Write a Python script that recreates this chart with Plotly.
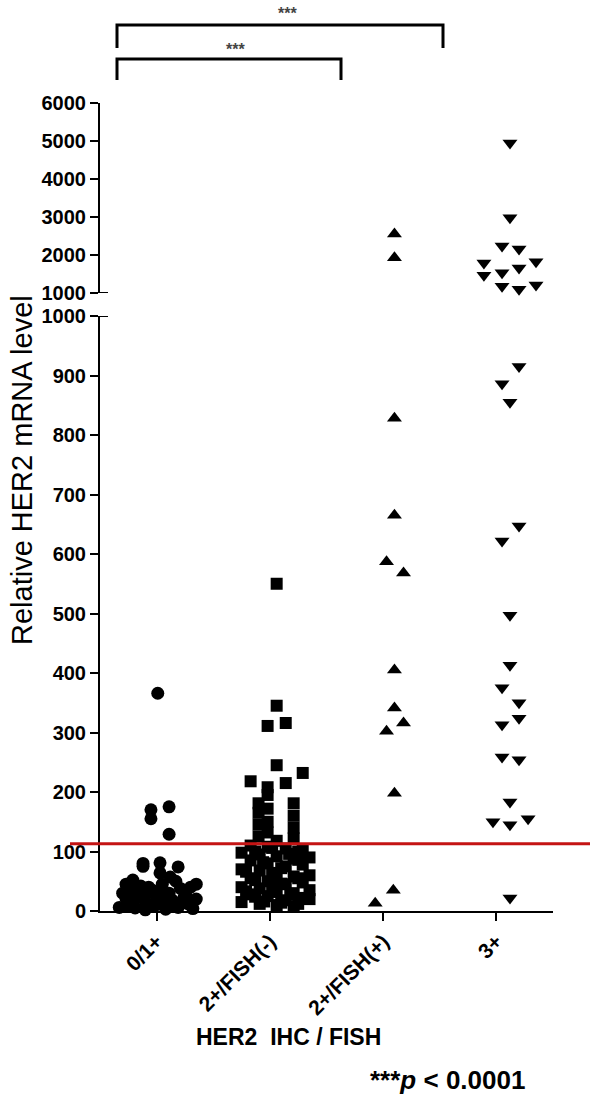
import numpy as np
import plotly.graph_objects as go

categories = ["0/1+", "2+/FISH(-)", "2+/FISH(+)", "3+"]

# values and horizontal scatter (jitter, in category units)
g0_vals = [366, 175, 170, 155, 129, 80, 75, 81, 74, 64, 57, 52, 40, 45, 38, 30, 20, 10, 5,
           42, 25, 15, 8, 35, 22, 12, 3, 45, 30, 18, 6, 38, 25, 12, 4, 40, 28, 15, 50, 33, 2, 20, 45,
           30, 18, 8, 26, 14, 36, 6, 22, 10]
g0_jit = [0.01, 0.11, -0.05, -0.05, 0.11, -0.12, -0.12, 0.03, 0.19, 0.03, 0.12, -0.21, 0.30,
          -0.27, -0.23, -0.30, -0.27, -0.26, -0.19, -0.14, -0.16, -0.10, -0.05, -0.04, 0.0, 0.04,
          0.08, 0.05, 0.11, 0.14, 0.19, 0.21, 0.26, 0.28, 0.32, -0.07, 0.02, 0.23, 0.17, -0.20,
          -0.10, 0.35, 0.35,
          -0.08, -0.20, 0.16, 0.07, 0.30, -0.15, -0.33, 0.24, -0.01]

g1_vals = [550, 345, 316, 311, 245, 232, 218, 215, 208, 195, 181, 181, 172, 165, 160, 150, 145,
           140, 132, 125, 122, 118, 110, 108, 105, 103, 98, 95, 92, 88, 85, 80, 78, 75, 70, 68,
           62, 58, 55, 50, 48, 45, 40, 38, 32, 30, 28, 25, 22, 18, 15, 12, 10, 8, 20, 35, 60, 90,
           100, 82, 64, 46, 28, 12, 96, 72, 52, 33, 16, 106, 86, 66, 42, 24, 100, 55, 14]
g1_jit = [0.06, 0.06, 0.14, -0.02, 0.06, 0.29, -0.17, 0.14, -0.02, -0.02, -0.10, 0.21, -0.02,
          -0.10, 0.21, -0.02, -0.10, 0.21, -0.02, -0.10, 0.21, 0.06, -0.17, -0.02, 0.14, 0.29,
          -0.25, -0.09, 0.06, 0.21, -0.17, -0.02, 0.29, 0.14, -0.25, -0.09, 0.06, 0.21, -0.17,
          -0.02, 0.29, 0.14, -0.25, -0.09, 0.06, 0.21, -0.17, -0.02, 0.29, 0.14, -0.25, -0.09,
          0.06, 0.21, 0.35, 0.35, 0.35, 0.35,
          -0.13, -0.06, 0.02, 0.10, 0.18, 0.25, 0.17, 0.10, -0.13, -0.21, -0.05, 0.02, 0.25,
          -0.21, 0.02, -0.13, 0.25, 0.25, 0.10]

g2_vals = [2550, 1930, 828, 665, 587, 568, 405, 341, 316, 302, 198, 13, 35]
g2_jit = [0.10, 0.10, 0.10, 0.10, 0.03, 0.18, 0.10, 0.10, 0.18, 0.03, 0.10, -0.07, 0.09]

g3_vals = [4950, 2980, 2240, 2160, 1790, 1470, 1530, 1180, 1660, 1100, 1820, 1210, 915, 886, 855,
           647, 622, 497, 413, 375, 350, 324, 313, 259, 254, 183, 150, 145, 155, 22]
g3_jit = [0.12, 0.12, 0.05, 0.20, -0.11, -0.11, 0.05, 0.05, 0.20, 0.20, 0.35, 0.35, 0.20, 0.05,
          0.12, 0.20, 0.05, 0.12, 0.12, 0.05, 0.20, 0.20, 0.05, 0.05, 0.20, 0.12, -0.03, 0.12,
          0.28, 0.12]

cutoff = 113
lower_ticks = list(range(0, 1001, 100))
upper_ticks = list(range(1000, 6001, 1000))

groups = [
    (g0_vals, g0_jit, "circle", 13),
    (g1_vals, g1_jit, "square", 12),
    (g2_vals, g2_jit, "triangle-up", 13),
    (g3_vals, g3_jit, "triangle-down", 13),
]

W, H = 600, 1100
def px(x):
    return x / W
def py(y):
    return 1 - y / H

fig = go.Figure()
for i, (vals, jit, sym, sz) in enumerate(groups):
    v = np.array(vals, dtype=float)
    xpos = i + np.array(jit)
    lo = v <= 1000
    hi = v > 1000
    mk = dict(symbol=sym, size=sz, color="black", line=dict(width=0))
    fig.add_trace(go.Scatter(x=xpos[lo], y=v[lo], mode="markers", marker=mk,
                             xaxis="x", yaxis="y", cliponaxis=False, showlegend=False))
    if hi.any():
        fig.add_trace(go.Scatter(x=xpos[hi], y=v[hi], mode="markers", marker=mk,
                                 xaxis="x", yaxis="y2", cliponaxis=False, showlegend=False))

FAM = "Liberation Sans, Arial"
tickfont = dict(family=FAM, size=20, color="black", weight="bold")
axis_common = dict(showline=True, linecolor="black", linewidth=2, ticks="outside", ticklen=8,
                   tickwidth=2, tickcolor="black", showgrid=False, zeroline=False,
                   automargin=False)

fig.update_layout(
    template="none",
    width=W, height=H,
    margin=dict(l=0, r=0, t=0, b=0, pad=0),
    paper_bgcolor="white", plot_bgcolor="white",
    xaxis=dict(domain=[px(100), px(553)], range=[-0.5, 3.5], anchor="y",
               tickvals=list(range(len(categories))), ticktext=categories, tickangle=-45,
               tickfont=dict(family=FAM, size=21, color="black", weight="bold"),
               **axis_common),
    yaxis=dict(domain=[py(911), py(316)], range=[0, 1000], tickvals=lower_ticks,
               anchor="x", tickfont=tickfont, **axis_common),
    yaxis2=dict(domain=[py(293), py(103)], range=[1000, 6000], tickvals=upper_ticks,
                anchor="x", tickfont=tickfont, **axis_common),
)

shapes = []
# cutoff line
shapes.append(dict(type="line", xref="paper", yref="y", x0=px(70), x1=px(590), y0=cutoff, y1=cutoff,
                   line=dict(color="#c41414", width=3)))
# axis break marks
shapes.append(dict(type="line", xref="paper", yref="y2", x0=px(100), x1=px(108), y0=1000, y1=1000,
                   line=dict(color="black", width=2)))
shapes.append(dict(type="line", xref="paper", yref="y", x0=px(100), x1=px(108), y0=1000, y1=1000,
                   line=dict(color="black", width=2)))
# significance brackets
for (x0, x1, ytop, ybot) in [(117, 443, 25, 48), (117, 341, 59, 80)]:
    path = f"M {px(x0)},{py(ybot)} L {px(x0)},{py(ytop)} L {px(x1)},{py(ytop)} L {px(x1)},{py(ybot)}"
    shapes.append(dict(type="path", xref="paper", yref="paper", path=path,
                       line=dict(color="black", width=3)))
fig.update_layout(shapes=shapes)

ann = []
for (sx, sy) in [(287, 14), (235, 49)]:
    ann.append(dict(x=px(sx), y=py(sy), xref="paper", yref="paper", text="***", showarrow=False,
                    xanchor="center", yanchor="middle",
                    font=dict(family=FAM, size=16, color="#444444", weight="bold")))
ann.append(dict(x=px(22), y=py(470), xref="paper", yref="paper", text="Relative HER2 mRNA level",
                textangle=-90, showarrow=False, xanchor="center", yanchor="middle",
                font=dict(family=FAM, size=29, color="black")))
ann.append(dict(x=px(288), y=py(1037), xref="paper", yref="paper", text="HER2&nbsp; IHC / FISH",
                showarrow=False, xanchor="center", yanchor="middle",
                font=dict(family=FAM, size=23, color="black", weight="bold")))
ann.append(dict(x=px(447), y=py(1080), xref="paper", yref="paper",
                text="***<i>p</i> &lt; 0.0001", showarrow=False, xanchor="center", yanchor="middle",
                font=dict(family=FAM, size=26, color="black", weight="bold")))
fig.update_layout(annotations=ann)

fig.write_html("out.html", config={"displayModeBar": False},
               post_script="document.body.style.margin='0px';")
